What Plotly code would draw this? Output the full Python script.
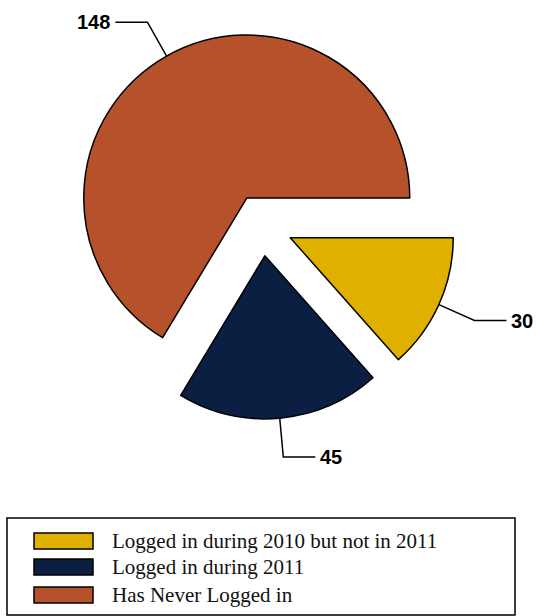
import math
import plotly.graph_objects as go

labels = ["Logged in during 2010 but not in 2011", "Logged in during 2011", "Has Never Logged in"]
values = [30, 45, 148]
colors = ["#E0B000", "#0B1F42", "#B5512B"]

W, H = 536, 616
CX, CY = 262, 225   # pie centre (px)
R = 163             # radius (px)
PULL = 0.19

half = R * (1 + PULL)
dom_x = [(CX - half) / W, (CX + half) / W]
dom_y = [1 - (CY + half) / H, 1 - (CY - half) / H]

fig = go.Figure(go.Pie(
    labels=labels, values=values, sort=False, direction="clockwise", rotation=90,
    pull=[PULL] * len(values),
    marker=dict(colors=colors, line=dict(color="black", width=1.5)),
    textinfo="none", hoverinfo="label+value", showlegend=False,
    domain=dict(x=dom_x, y=dom_y),
))

def px(x):
    return x / W

def py(y):
    return 1 - y / H

shapes = []
annotations = []
total = sum(values)
cum = 0
for v in values:
    mid = -(cum + v / 2) / total * 2 * math.pi
    cum += v
    c, s = math.cos(mid), -math.sin(mid)
    sx, sy = CX + PULL * R * c, CY + PULL * R * s
    ax, ay = sx + R * c, sy + R * s
    ex, ey = ax + 39 * c, ay + 39 * s
    dirx = 1 if c >= 0 else -1
    hx = ex + 32 * dirx
    shapes.append(dict(type="path", xref="paper", yref="paper",
                       path=f"M {px(ax)},{py(ay)} L {px(ex)},{py(ey)} L {px(hx)},{py(ey)}",
                       line=dict(color="black", width=1.5)))
    annotations.append(dict(x=px(hx + 3 * dirx), y=py(ey), xref="paper", yref="paper",
                            text=f"<b>{v}</b>", showarrow=False,
                            xanchor="left" if dirx > 0 else "right", yanchor="middle",
                            font=dict(family="Liberation Sans, Arial", size=20, color="black")))

# legend box
shapes.append(dict(type="rect", xref="paper", yref="paper",
                   x0=px(7), x1=px(515), y0=py(615), y1=py(518),
                   line=dict(color="black", width=1.5)))
row_centers = [541, 567, 595]
for lab, col, yc in zip(labels, colors, row_centers):
    shapes.append(dict(type="rect", xref="paper", yref="paper",
                       x0=px(34), x1=px(93), y0=py(yc + 8), y1=py(yc - 8),
                       fillcolor=col, line=dict(color="black", width=1.5)))
    annotations.append(dict(x=px(110), y=py(yc), xref="paper", yref="paper",
                            text=lab, showarrow=False, xanchor="left", yanchor="middle",
                            font=dict(family="Liberation Serif, Times New Roman", size=21,
                                      color="#111111")))

fig.update_layout(
    width=W, height=H, margin=dict(l=0, r=0, t=0, b=0),
    paper_bgcolor="white", plot_bgcolor="white",
    shapes=shapes, annotations=annotations, showlegend=False,
)

fig.write_html("out.html", config={"displayModeBar": False},
               post_script="document.body.style.margin='0px';document.body.style.overflow='hidden';")
